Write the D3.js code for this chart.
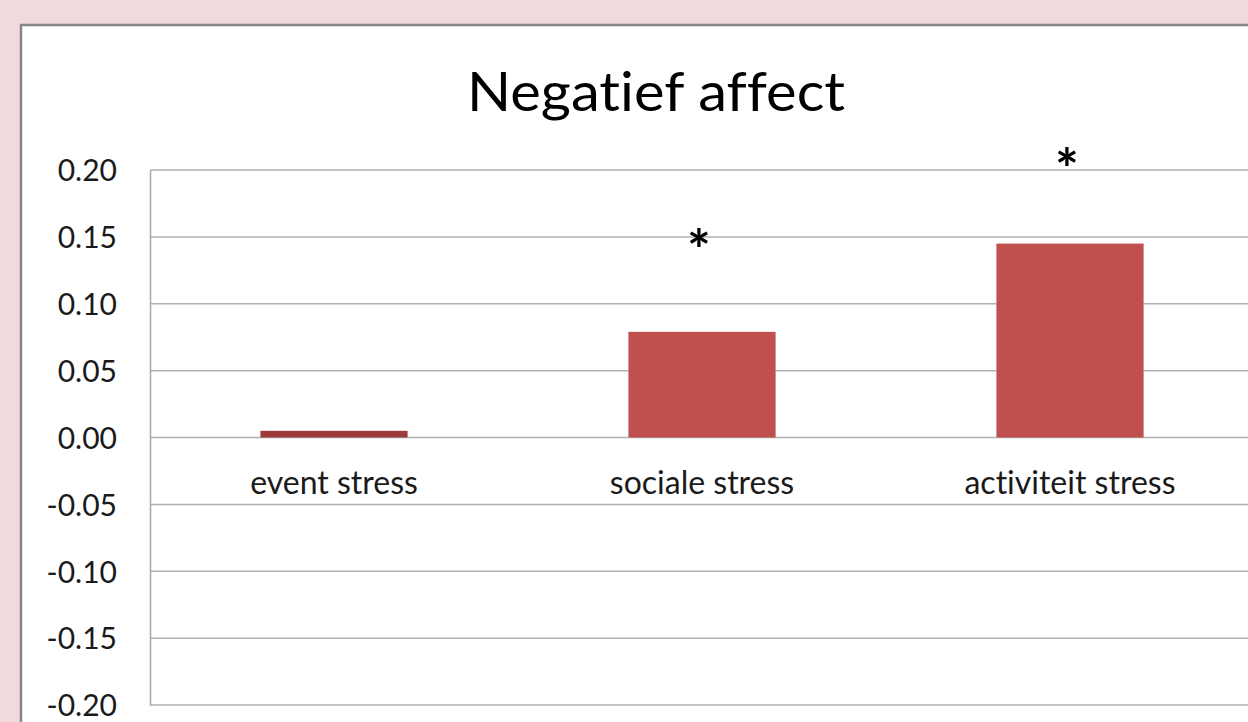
<!DOCTYPE html>
<html>
<head>
<meta charset="utf-8">
<script src="https://cdn.jsdelivr.net/npm/d3@7"></script>
<style>
  html, body { margin: 0; padding: 0; background: #f2d9dd; overflow: hidden; }
  text { font-family: Lato, "Open Sans", sans-serif; font-variant-ligatures: none; }
</style>
</head>
<body>
<div id="chart"></div>
<script>
var categories = ['event stress', 'sociale stress', 'activiteit stress'];
var values = [0.005, 0.079, 0.145];
var starLevels = [null, 0.146, 0.207];
var yTicks = [-0.20, -0.15, -0.10, -0.05, 0.00, 0.05, 0.10, 0.15, 0.20];

var svgWidth = 1248, svgHeight = 722;
var margin = { top: 170, left: 150 };
var plotRight = 1254, plotBottom = 705;

var svg = d3.select('div#chart').append('svg')
  .attr('width', svgWidth)
  .attr('height', svgHeight);

// pink page + white chart frame
svg.append('rect')
  .attr('width', svgWidth).attr('height', svgHeight)
  .attr('fill', '#f2d9dd');
svg.append('rect')
  .attr('x', 21).attr('y', 25)
  .attr('width', 1300).attr('height', 800)
  .attr('fill', '#ffffff')
  .attr('stroke', '#878787')
  .attr('stroke-width', 2.5);

// title
svg.append('text')
  .attr('x', 656).attr('y', 111)
  .attr('text-anchor', 'middle')
  .attr('font-size', '55px')
  .attr('fill', '#000')
  .attr('textLength', 378)
  .attr('lengthAdjust', 'spacingAndGlyphs')
  .text('Negatief affect');

var xScale = d3.scaleBand()
  .domain(categories)
  .range([margin.left, plotRight])
  .paddingInner(0.6)
  .paddingOuter(0.3);

var yScale = d3.scaleLinear()
  .domain([-0.2, 0.2])
  .range([plotBottom, margin.top]);

// gridlines
svg.append('g').selectAll('line')
  .data(yTicks)
  .enter().append('line')
  .attr('x1', margin.left).attr('x2', plotRight)
  .attr('y1', function (d) { return yScale(d); })
  .attr('y2', function (d) { return yScale(d); })
  .attr('stroke', '#b0b0b0')
  .attr('stroke-width', 1.5);

// axis-y
var yAxis = svg.append('g')
  .attr('transform', 'translate(' + margin.left + ',0)')
  .call(d3.axisLeft(yScale).tickValues(yTicks).tickSize(0).tickPadding(33)
    .tickFormat(d3.format('.2f')));
yAxis.select('.domain').attr('stroke', '#a6a6a6').attr('stroke-width', 1.5);
yAxis.selectAll('text')
  .attr('font-family', 'Lato, "Open Sans", sans-serif')
  .attr('font-size', '30px')
  .attr('fill', '#1a1a1a')
  .attr('dy', '0.36em')
  .text(function (d) { return d3.format('.2f')(d).replace('−', '-'); });

// bars
svg.append('g').selectAll('rect')
  .data(values)
  .enter().append('rect')
  .attr('x', function (d, i) { return xScale(categories[i]); })
  .attr('y', function (d) { return yScale(d); })
  .attr('width', xScale.bandwidth())
  .attr('height', function (d) { return yScale(0) - yScale(d); })
  .attr('fill', function (d, i) { return i === 0 ? '#9c3b3a' : '#c0504d'; });

// category labels
svg.append('g').selectAll('text')
  .data(categories)
  .enter().append('text')
  .attr('x', function (d) { return xScale(d) + xScale.bandwidth() / 2; })
  .attr('y', yScale(0) + 56)
  .attr('text-anchor', 'middle')
  .attr('font-size', '32px')
  .attr('fill', '#1a1a1a')
  .text(function (d) { return d; });

// significance asterisks
svg.append('g').selectAll('text')
  .data(categories)
  .enter().filter(function (d, i) { return starLevels[i] !== null; })
  .append('text')
  .attr('x', function (d) { return xScale(d) + xScale.bandwidth() / 2 - 3; })
  .attr('y', function (d) { return yScale(starLevels[categories.indexOf(d)]) + 28; })
  .attr('text-anchor', 'middle')
  .attr('font-size', '56px')
  .attr('font-weight', 'bold')
  .attr('fill', '#000')
  .text('*');
</script>
</body>
</html>
